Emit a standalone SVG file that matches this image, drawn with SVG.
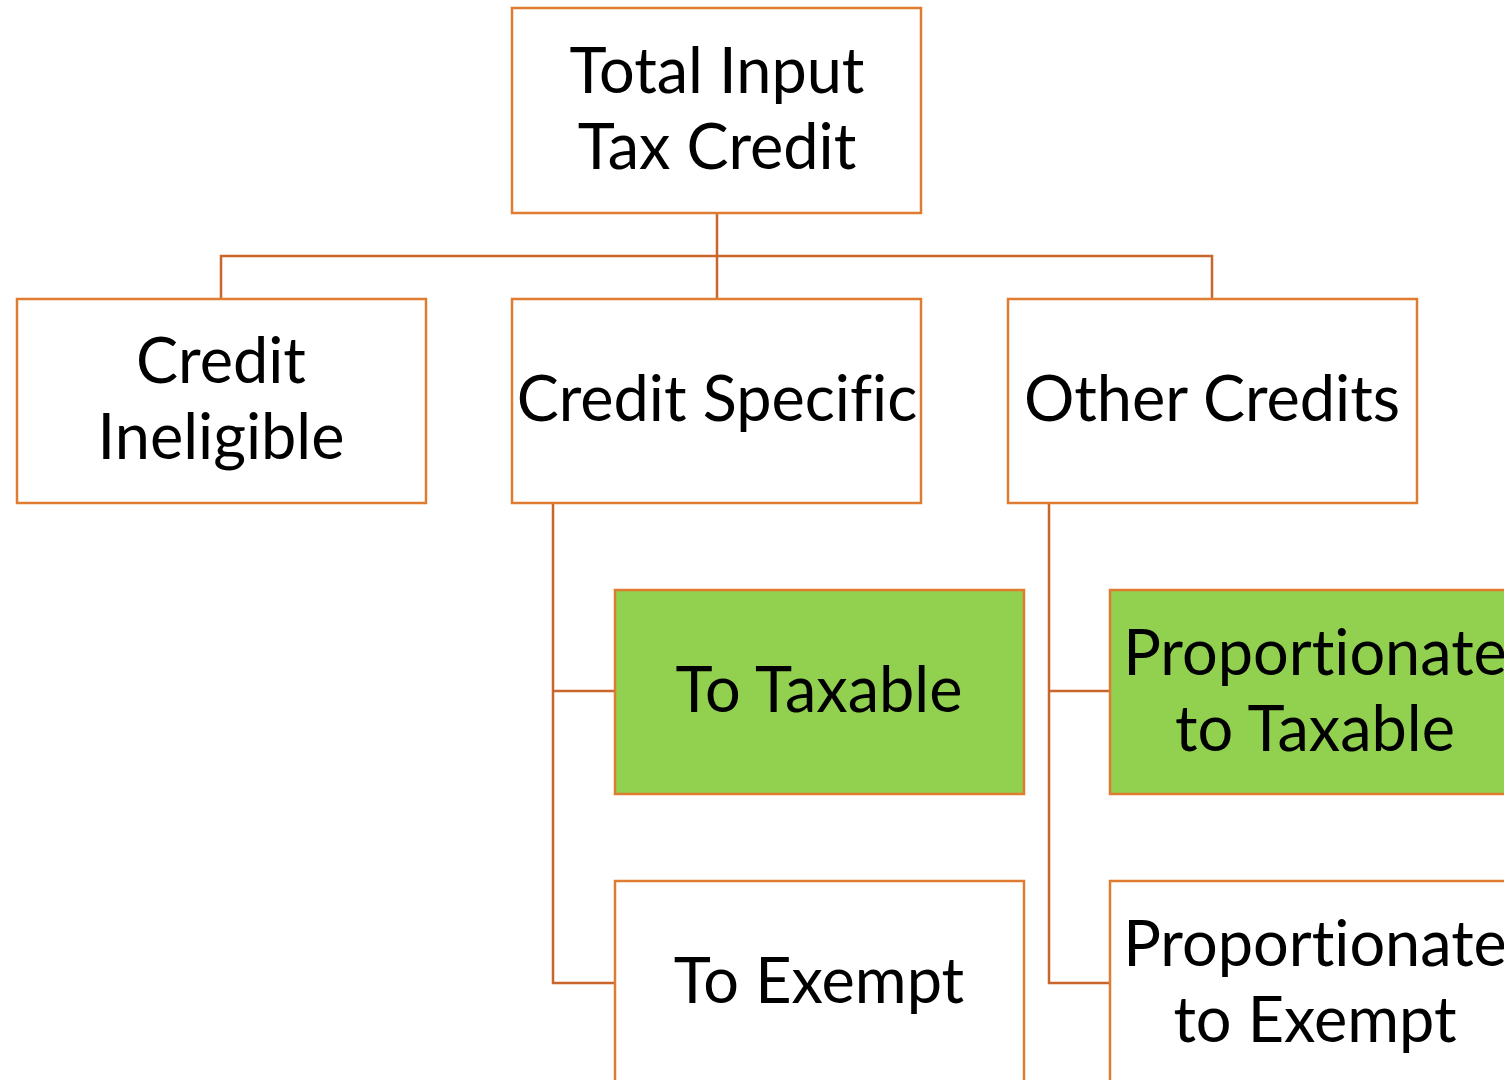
<svg xmlns="http://www.w3.org/2000/svg" width="1504" height="1080" viewBox="0 0 1504 1080">
<style>
.box{fill:#ffffff;stroke:#E07B32;stroke-width:2.5}
.green{fill:#92D050;stroke:#E07B32;stroke-width:2.5}
.conn{fill:none;stroke:#C8662B;stroke-width:2.5}
text{font-family:Lato,"Open Sans","Noto Sans",sans-serif;font-size:63px;fill:#000;text-anchor:middle;font-variant-ligatures:none;font-feature-settings:"liga" 0}
</style>
<rect width="1504" height="1080" fill="#ffffff"/>
<g id="connectors">
<path class="conn" d="M717 213V299M221 299V256H1212V299"/>
<path class="conn" d="M553 503V983H615M553 691H615"/>
<path class="conn" d="M1049 503V983H1110M1049 691H1110"/>
</g>
<g id="total"><rect class="box" x="512" y="8" width="409" height="205"/><text x="717" y="93">Total Input</text><text x="717" y="169">Tax Credit</text></g>
<g id="ineligible"><rect class="box" x="17" y="299" width="409" height="204"/><text x="221" y="383">Credit</text><text x="221" y="459">Ineligible</text></g>
<g id="specific"><rect class="box" x="512" y="299" width="409" height="204"/><text x="717" y="421">Credit Specific</text></g>
<g id="other"><rect class="box" x="1008" y="299" width="409" height="204"/><text x="1212" y="421">Other Credits</text></g>
<g id="toTaxable"><rect class="green" x="615" y="590" width="409" height="204"/><text x="819" y="712">To Taxable</text></g>
<g id="propTaxable"><rect class="green" x="1110" y="590" width="409" height="204"/><text x="1315" y="675">Proportionate</text><text x="1315" y="751">to Taxable</text></g>
<g id="toExempt"><rect class="box" x="615" y="881" width="409" height="204"/><text x="819" y="1003">To Exempt</text></g>
<g id="propExempt"><rect class="box" x="1110" y="881" width="409" height="204"/><text x="1315" y="966">Proportionate</text><text x="1315" y="1042">to Exempt</text></g>
</svg>
